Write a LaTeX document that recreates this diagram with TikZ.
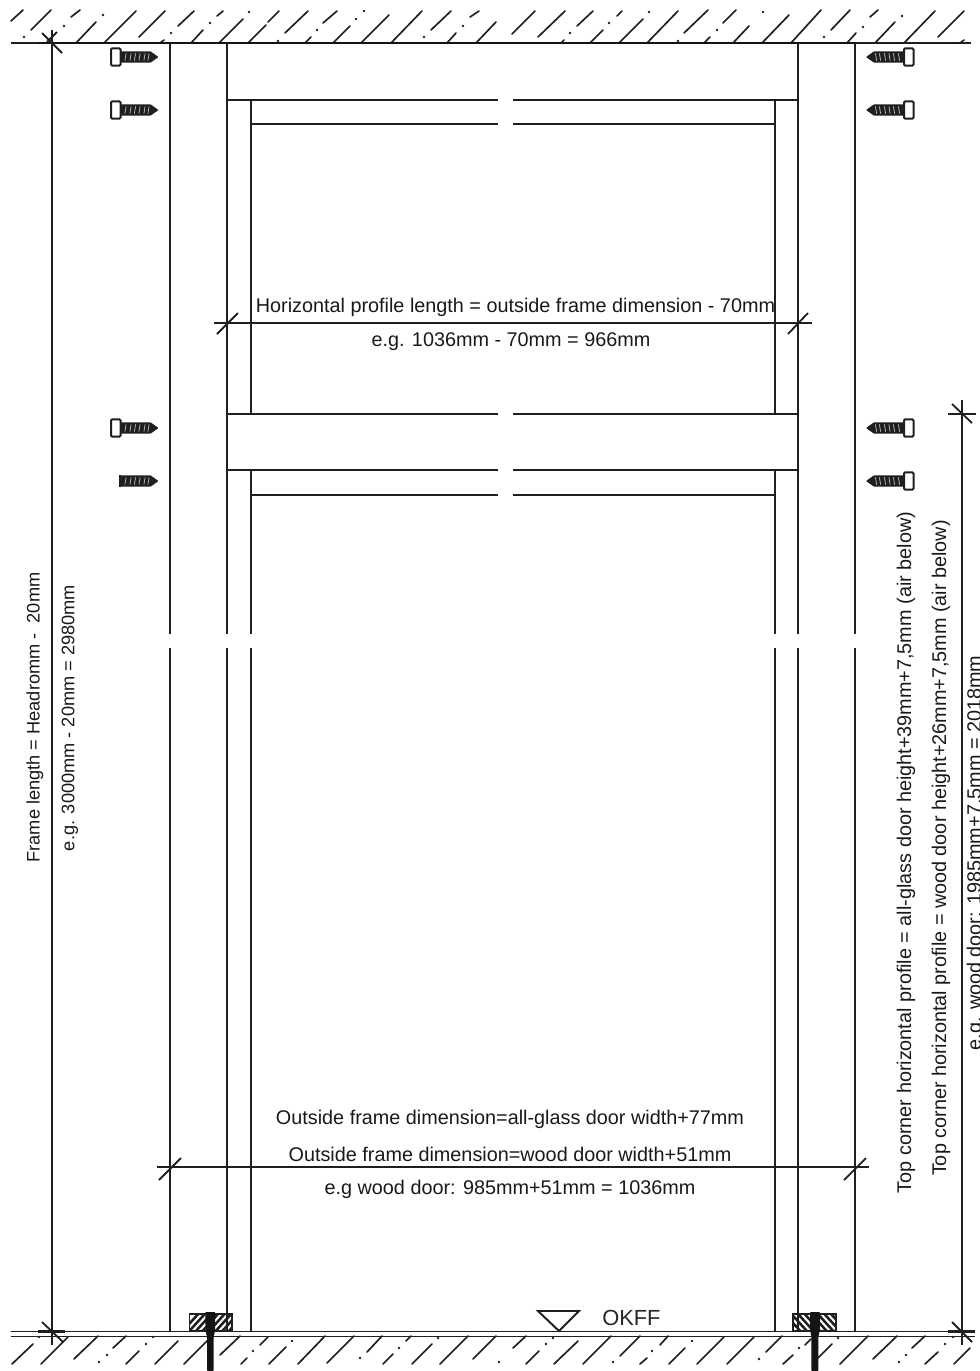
\documentclass[tikz,border=0pt]{standalone}
\usepackage{fontspec}
\setmainfont{Liberation Sans}
\newcommand{\txt}{\fontsize{14.86pt}{17pt}\selectfont}
\newcommand{\txtleft}{\fontsize{13.65pt}{16pt}\selectfont}
\tikzset{
  ln/.style={draw=black!88,line width=1.45pt},
  hatchln/.style={draw=black!88,line width=1.25pt,line cap=round},
  dim/.style={draw=black!88,line width=1.35pt},
  lbl/.style={inner sep=0pt,font=\txt,text=black!90},
  vlbl/.style={lbl,rotate=90},
  vlblleft/.style={inner sep=0pt,font=\txtleft,text=black!90,rotate=90},
  screwbody/.pic={
    \fill[black!88,rounded corners=0.5pt] (0,-5.7) -- (30,-5.7) -- (38,0) -- (30,5.7) -- (0,5.7) -- cycle;
    \foreach \t in {5,10,14.5,19,24,28}
      \draw[white!75!black,line width=0.55pt] (\t-0.6,3.6) -- (\t+0.6,-3.6);
  },
  screwhead/.pic={
    \draw[black!88,fill=white,line width=1.5pt,rounded corners=0.8pt] (-9.5,-8.6) rectangle (0,8.6);
  }
}
\begin{document}
\begin{tikzpicture}[x=0.75pt,y=-0.75pt]
\useasboundingbox (0,0) rectangle (980,1371);
% ---- top hatch
\foreach \a/\b/\c/\d in {11/21/23/10,31/30/51/10,71/17/80/10,76/43/96/22,104/43/136/11,139/37/165/11,178/26/194/11,217/16/223/11,191/43/203/30,219/43/243/19,248/43/266/25,268/22/279/11,285/33/308/11,323/23/337/11,305/43/311/37,333/43/350/26,361/43/389/15,391/43/422/11,431/30/451/11,470/17/479/11,447/43/456/33,476/43/496/22,512/34/535/11,538/37/565/11,577/26/593/11,617/16/622/11,590/43/603/30,619/43/643/19,647/43/678/11,684/33/708/10,723/23/736/10,704/43/710/37,733/43/749/26,762/43/789/15,791/43/821/10,831/30/850/10,870/17/878/10,847/43/856/33,875/43/895/22,904/43/935/11,938/37/964/11,160/43/164/40,561/43/564/40,960/43/964/40}
  \draw[hatchln] (\a,\b) -- (\c,\d);
\foreach \a/\b in {24/37,64/26,103/15,171/33,210/23,249/12,317/30,356/19,364/11,424/37,463/26,570/33,609/23,649/12,678/41,717/30,763/12,824/37,863/27,902/16,278/41}
  \fill[black!88] (\a,\b) circle (1.35);
% ---- bottom hatch
\foreach \a/\b/\c/\d in {12/1364/33/1344,41/1364/68/1337,74/1359/98/1336,113/1348/126/1336,126/1364/139/1351,155/1364/178/1341,184/1364/208/1340,220/1355/240/1336,260/1345/268/1337,241/1364/247/1358,269/1364/286/1347,298/1364/325/1336,327/1363/354/1336,367/1352/382/1336,383/1364/393/1354,406/1341/411/1336,412/1364/432/1344,440/1364/468/1336,473/1359/496/1336,513/1348/526/1336,526/1364/539/1351,554/1364/578/1341,583/1364/611/1336,620/1356/640/1336,660/1345/668/1336,640/1364/647/1358,669/1364/685/1348,697/1364/724/1337,727/1364/754/1337,766/1352/782/1336,783/1364/793/1355,805/1345/811/1339,818/1358/832/1344,840/1364/868/1336,873/1359/897/1336,912/1348/925/1336,925/1364/938/1352,954/1364/970/1348}
  \draw[hatchln] (\a,\b) -- (\c,\d);
\foreach \a/\b in {39/1337,99/1362,107/1355,146/1344,153/1337,253/1351,292/1341,360/1358,399/1348,438/1338,499/1362,553/1338,546/1344,613/1362,652/1351,692/1341,759/1359,799/1348,838/1338,899/1362,906/1355,945/1344,953/1337}
  \fill[black!88] (\a,\b) circle (1.35);
% ---- floor and ceiling
\draw[draw=black!88,line width=1.2pt] (11,43) -- (971,43);
\draw[draw=black!92,line width=2.1pt] (38,43) -- (856,43);
\draw[ln] (11,1331.5) -- (975,1331.5);
\draw[ln] (11,1336.5) -- (975,1336.5);
% ---- verticals
\foreach \x in {170,227,798,855}{
  \draw[ln] (\x,43) -- (\x,634);
  \draw[ln] (\x,648) -- (\x,1331.5);
}
\foreach \x in {251,775}{
  \draw[ln] (\x,100) -- (\x,414);
  \draw[ln] (\x,470) -- (\x,634);
  \draw[ln] (\x,648) -- (\x,1331.5);
}
% ---- horizontals with breaks
\foreach \y/\p/\q in {100/227/798,124/251/775,414/227/798,470/227/798,495/251/775}{
  \draw[ln] (\p,\y) -- (498,\y);
  \draw[ln] (513,\y) -- (\q,\y);
}
% ---- screws
\foreach \y in {57,110,428}{
  \pic at (120.5,\y) {screwbody};
  \pic at (120.5,\y) {screwhead};
}
\pic at (120.5,481) {screwbody};
\fill[black!88] (119,475.3) rectangle (121,486.7);
\foreach \y in {57,110,428,481}{
  \pic[xscale=-1] at (904,\y) {screwbody};
  \pic[xscale=-1] at (904,\y) {screwhead};
}
% ---- floor blocks
\begin{scope}
  \clip (189.5,1314) rectangle (232,1331);
  \foreach \i in {0,...,9}
    \draw[black!88,line width=1.9pt] (180+\i*6.6,1334) -- (200+\i*6.6,1312);
\end{scope}
\draw[black!88,line width=1.2pt] (189.5,1314) rectangle (232,1331);
\begin{scope}
  \clip (793,1314) rectangle (836,1331);
  \foreach \i in {0,...,9}
    \draw[black!88,line width=1.9pt] (783+\i*6.6,1312) -- (803+\i*6.6,1334);
\end{scope}
\draw[black!88,line width=1.2pt] (793,1314) rectangle (836,1331);
\fill[black!92,rounded corners=0.6pt] (205.3,1312) -- (215.3,1312) -- (215,1331) -- (213.7,1337) -- (213.7,1371) -- (207,1371) -- (207,1337) -- (205.6,1331) -- cycle;
\fill[black!92,rounded corners=0.6pt] (810,1312) -- (820,1312) -- (819.7,1331) -- (818.4,1337) -- (818.4,1371) -- (811.4,1371) -- (811.4,1337) -- (810.3,1331) -- cycle;
% ---- level mark
\coordinate (tl) at (538,1311);
\coordinate (tr) at (579,1311);
\coordinate (ta) at (559,1331);
\draw[ln,line join=miter] (tl) -- (tr) -- (ta) -- cycle;
\node[inner sep=0pt,anchor=base west,text=black!85] (okff) at (602,1325) {\fontsize{16.4pt}{18pt}\selectfont OKFF};
% ---- dimension lines
\coordinate (la) at (51.5,30);
\coordinate (lb) at (51.5,1345);
\draw[dim,line width=1.5pt] (la) -- (lb);
\draw[dim] (42,33) -- (62,53);
\draw[dim] (47,42) -- (57,32);
\draw[dim] (42,1322) -- (63,1342);
\draw[black!88,line width=2.1pt] (38,1331.5) -- (65,1331.5);
\coordinate (ra) at (962,400);
\coordinate (rb) at (962,1345);
\draw[dim] (ra) -- (rb);
\draw[dim] (948,414) -- (976,414);
\draw[dim] (952,404) -- (972,423);
\draw[dim] (952,1322) -- (972,1342);
\draw[black!88,line width=2.1pt] (948,1331.5) -- (975,1331.5);
\coordinate (ha) at (214,323);
\coordinate (hb) at (812,323);
\draw[dim] (ha) -- (hb);
\draw[dim] (217,334) -- (238,313);
\draw[dim] (788,334) -- (808,313);
\coordinate (wa) at (157,1167);
\coordinate (wb) at (869,1167);
\draw[dim] (wa) -- (wb);
\draw[dim] (159,1180) -- (181,1158);
\draw[dim] (844,1180) -- (866,1158);
% ---- labels
\node[lbl] (t1) at (515.5,307) {Horizontal profile length = outside frame dimension - 70mm};
\node[lbl] (t2) at (511,342) {e.g. 1036mm - 70mm = 966mm};
\node[lbl] (t3) at (510,1119) {Outside frame dimension=all-glass door width+77mm};
\node[lbl] (t4) at (510,1154) {Outside frame dimension=wood door width+51mm};
\node[lbl] (t5) at (510,1189) {e.g wood door: 985mm+51mm = 1036mm};
\node[vlblleft] (t6) at (35,717.5) {Frame length = Headromm -\ \ 20mm};
\node[vlblleft] (t7) at (70,718) {e.g. 3000mm - 20mm = 2980mm};
\node[vlbl] (t8) at (906,852.5) {Top corner horizontal profile = all-glass door height+39mm+7,5mm (air below)};
\node[vlbl] (t9) at (941,848) {Top corner horizontal profile = wood door height+26mm+7,5mm (air below)};
\node[vlbl] (t10) at (976,853) {e.g. wood door: 1985mm+7,5mm = 2018mm};
\end{tikzpicture}
\end{document}
